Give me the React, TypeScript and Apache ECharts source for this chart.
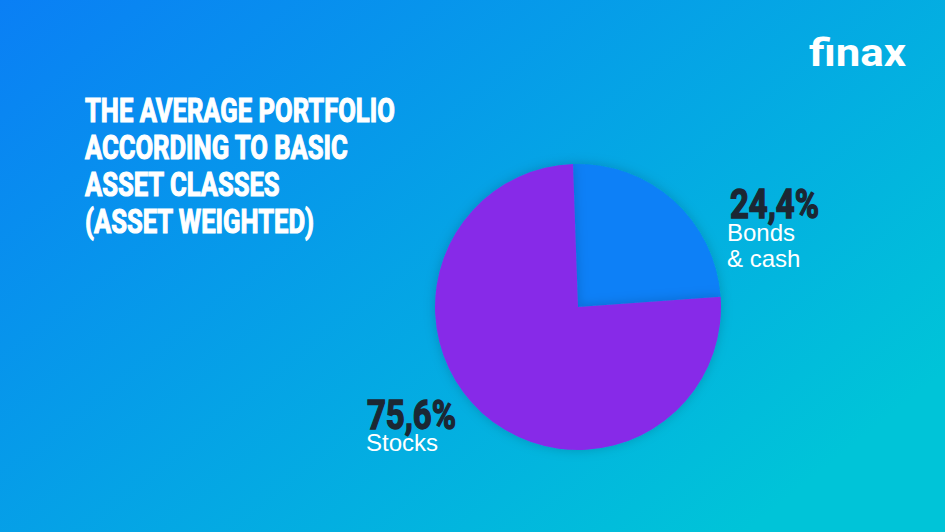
import React, { useEffect, useRef } from "react";
import * as echarts from "echarts";

const titleLines = ["THE AVERAGE PORTFOLIO", "ACCORDING TO BASIC", "ASSET CLASSES", "(ASSET WEIGHTED)"];
const categories = ["Bonds & cash", "Stocks"];
const labelNames = ["Bonds\n& cash", "Stocks"];
const values = [24.4, 75.6];
const sliceColors = ["#0a80f7", "#872ce8"];
const brand = "finax";

function measure(text: string, font: string): number {
  const c = document.createElement("canvas").getContext("2d")!;
  c.font = font;
  return c.measureText(text).width;
}

const pct = (v: number) => v.toFixed(1).replace(".", ",") + "%";

export default function App() {
  const ref = useRef<HTMLDivElement>(null);
  useEffect(() => {
    document.body.style.margin = "0";
    const chart = echarts.init(ref.current!, null, { renderer: "svg" });

    const titleFont = "bold 34px Roboto";
    const titleScale = 310 / measure(titleLines[0], titleFont);
    const pctFont = "bold 40px Roboto";
    const logoFont = "bold 38px Roboto";
    const logoScale = 97 / measure(brand, logoFont);

    const pctPos = [
      { x: 730, y: 204 },
      { x: 367, y: 415 },
    ];

    const elements: any[] = [
      {
        type: "rect",
        z: -10,
        shape: { x: 0, y: 0, width: 945, height: 532 },
        style: {
          fill: {
            type: "linear", x: 0, y: 0, x2: 1, y2: 0.7,
            colorStops: [
              { offset: 0, color: "#0a7ff5" },
              { offset: 1, color: "#00c4d8" },
            ],
          },
        },
      },
      ...titleLines.map((t, i) => ({
        type: "text",
        x: 85,
        y: 110 + i * 37,
        scaleX: titleScale,
        z: 5,
        style: {
          text: t,
          fill: "#ffffff",
          stroke: "#ffffff",
          lineWidth: 1.2,
          font: titleFont,
          verticalAlign: "middle",
          align: "left",
        },
      })),
      ...values.map((v, i) => {
        const s = pct(v);
        return {
          type: "text",
          x: pctPos[i].x,
          y: pctPos[i].y,
          scaleX: 89 / measure(s, pctFont),
          z: 5,
          style: {
            text: s,
            fill: "#1c2733",
            stroke: "#1c2733",
            lineWidth: 1.4,
            font: pctFont,
            verticalAlign: "middle",
            align: "left",
          },
        };
      }),
      {
        type: "text",
        x: 809,
        y: 53,
        scaleX: logoScale,
        z: 5,
        style: {
          text: brand,
          fill: "#ffffff",
          font: logoFont,
          verticalAlign: "middle",
          align: "left",
        },
      },
    ];

    chart.setOption({
      animation: false,
      graphic: { elements },
      series: [
        {
          type: "pie",
          center: [578, 307],
          radius: 143,
          startAngle: 92,
          clockwise: true,
          z: 2,
          itemStyle: {
            shadowBlur: 12,
            shadowColor: "rgba(0,0,40,0.18)",
          },
          labelLine: { show: false },
          label: {
            show: true,
            position: "outside",
            formatter: (p: any) => labelNames[p.dataIndex],
            fontFamily: "'Liberation Sans', Arial, sans-serif",
            fontSize: 24,
            lineHeight: 26,
            color: "#ffffff",
            align: "left",
          },
          labelLayout: (params: any) => {
            if (params.dataIndex === 0) {
              return { x: 727, y: 219, align: "left", verticalAlign: "top" };
            }
            return { x: 366, y: 429, align: "left", verticalAlign: "top" };
          },
          data: categories.map((c, i) => ({
            name: c,
            value: values[i],
            itemStyle: { color: sliceColors[i] },
          })),
        },
      ],
    });
    return () => chart.dispose();
  }, []);
  return <div ref={ref} style={{ width: 945, height: 532 }} />;
}
